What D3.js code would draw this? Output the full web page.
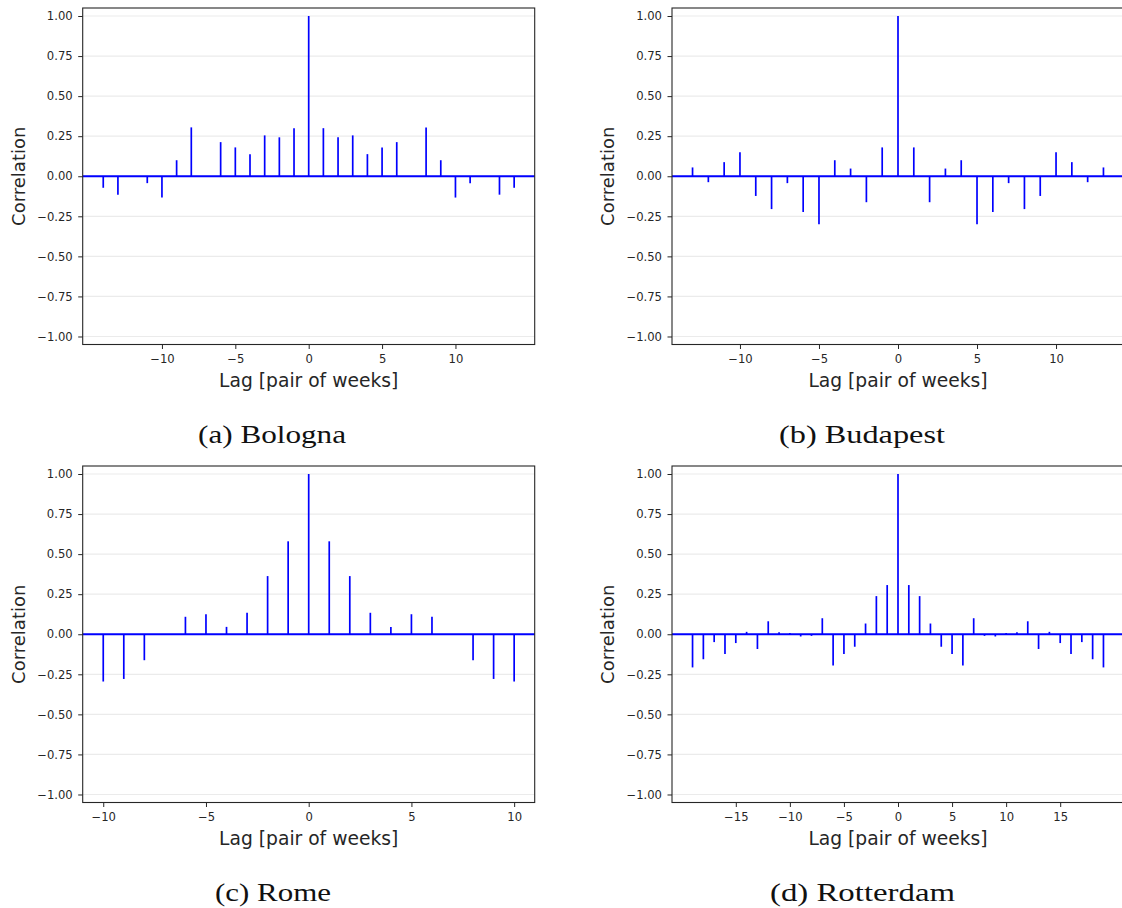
<!DOCTYPE html>
<html>
<head>
<meta charset="utf-8">
<script src="https://cdn.jsdelivr.net/npm/d3@7"></script>
<style>
  html, body { margin: 0; padding: 0; background: #fff; }
  svg { display: block; }
</style>
</head>
<body>
<svg id="chart" width="1122" height="908"></svg>
<script>
// ---------------- data ----------------
const bolognaLags = [-14,-13,-12,-11,-10,-9,-8,-7,-6,-5,-4,-3,-2,-1,0,1,2,3,4,5,6,7,8,9,10,11,12,13,14];
const bolognaCorr = [-0.072,-0.115,0,-0.043,-0.133,0.10,0.305,0,0.213,0.18,0.138,0.255,0.243,0.30,1.0,
                     0.30,0.243,0.255,0.138,0.18,0.213,0,0.305,0.10,-0.133,-0.043,0,-0.115,-0.072];

const budapestLags = [-13,-12,-11,-10,-9,-8,-7,-6,-5,-4,-3,-2,-1,0,1,2,3,4,5,6,7,8,9,10,11,12,13];
const budapestCorr = [0.055,-0.037,0.088,0.15,-0.123,-0.205,-0.043,-0.223,-0.30,0.10,0.048,-0.162,0.18,1.0,
                      0.18,-0.162,0.048,0.10,-0.30,-0.223,-0.043,-0.205,-0.123,0.15,0.088,-0.037,0.055];

const romeLags = [-10,-9,-8,-7,-6,-5,-4,-3,-2,-1,0,1,2,3,4,5,6,7,8,9,10];
const romeCorr = [-0.295,-0.279,-0.162,0,0.109,0.125,0.046,0.134,0.363,0.58,1.0,
                  0.58,0.363,0.134,0.046,0.125,0.109,0,-0.162,-0.279,-0.295];

const rotterdamLags = [-19,-18,-17,-16,-15,-14,-13,-12,-11,-10,-9,-8,-7,-6,-5,-4,-3,-2,-1,0,
                       1,2,3,4,5,6,7,8,9,10,11,12,13,14,15,16,17,18,19];
const rotterdamCorr = [-0.207,-0.156,-0.049,-0.123,-0.055,0.015,-0.092,0.081,0.013,0.008,-0.014,-0.01,0.10,-0.195,-0.123,-0.078,0.067,0.238,0.307,1.0,
                       0.307,0.238,0.067,-0.078,-0.123,-0.195,0.10,-0.01,-0.014,0.008,0.013,0.081,-0.092,0.015,-0.055,-0.123,-0.049,-0.156,-0.207];

const yTicks = [-1.0,-0.75,-0.5,-0.25,0,0.25,0.5,0.75,1.0];
const xTicksA = [-10,-5,0,5,10];
const xTicksB = [-10,-5,0,5,10];
const xTicksC = [-10,-5,0,5,10];
const xTicksD = [-15,-10,-5,0,5,10,15];

const captions = ["(a) Bologna", "(b) Budapest", "(c) Rome", "(d) Rotterdam"];
const maxLags = [14, 13, 10, 19];
const xLabel = "Lag [pair of weeks]";
const yLabel = "Correlation";

// ---------------- layout ----------------
const panels = [
  {lags: bolognaLags,   corr: bolognaCorr,   ticks: xTicksA, cap: captions[0], maxlag: maxLags[0], x0: 82.7, y0: 8,   capX: 272, capW: 148},
  {lags: budapestLags,  corr: budapestCorr,  ticks: xTicksB, cap: captions[1], maxlag: maxLags[1], x0: 672,  y0: 8,   capX: 862, capW: 166},
  {lags: romeLags,      corr: romeCorr,      ticks: xTicksC, cap: captions[2], maxlag: maxLags[2], x0: 82.7, y0: 466, capX: 273, capW: 116},
  {lags: rotterdamLags, corr: rotterdamCorr, ticks: xTicksD, cap: captions[3], maxlag: maxLags[3], x0: 672,  y0: 466, capX: 862.5, capW: 185}
];
const W = 452, H = 336.5;
const ink = "#262626";
const blue = "#0000ff";

const svg = d3.select("#chart");

panels.forEach(p => {
  const margin = p.maxlag * 1.1;
  const x = d3.scaleLinear().domain([-margin, margin]).range([0, W]);
  const y = d3.scaleLinear().domain([-1.05, 1.05]).range([H, 0]);
  const g = svg.append("g").attr("transform", `translate(${p.x0},${p.y0})`);

  // grid
  g.append("g").selectAll("line").data(yTicks).join("line")
    .attr("x1", 0).attr("x2", W)
    .attr("y1", d => y(d)).attr("y2", d => y(d))
    .attr("stroke", "#ebebeb").attr("stroke-width", 1.2);

  // vlines
  g.append("g").selectAll("line").data(p.lags.map((l, i) => [l, p.corr[i]])).join("line")
    .attr("x1", d => x(d[0])).attr("x2", d => x(d[0]))
    .attr("y1", y(0)).attr("y2", d => y(d[1]))
    .attr("stroke", blue).attr("stroke-width", 1.7);

  // zero line
  g.append("line").attr("x1", 0).attr("x2", W).attr("y1", y(0)).attr("y2", y(0))
    .attr("stroke", blue).attr("stroke-width", 2);

  // spines
  g.append("rect").attr("x", 0).attr("y", 0).attr("width", W).attr("height", H)
    .attr("fill", "none").attr("stroke", ink).attr("stroke-width", 1.1);

  // axes
  const xa = d3.axisBottom(x).tickValues(p.ticks).tickSize(4.5).tickPadding(5.5)
    .tickFormat(d3.format("d"));
  const ya = d3.axisLeft(y).tickValues(yTicks).tickSize(4.5).tickPadding(5.5)
    .tickFormat(d3.format(".2f"));
  const gx = g.append("g").attr("transform", `translate(0,${H})`).call(xa);
  const gy = g.append("g").call(ya);
  [gx, gy].forEach(a => {
    a.select(".domain").remove();
    a.selectAll(".tick line").attr("stroke", ink).attr("stroke-width", 1);
    a.selectAll(".tick text").attr("fill", ink)
      .style("font-family", "DejaVu Sans").style("font-size", "11.6px");
  });

  // axis labels
  g.append("text").attr("x", x(0)).attr("y", H + 42)
    .attr("text-anchor", "middle").attr("fill", ink)
    .style("font-family", "DejaVu Sans").style("font-size", "18.7px")
    .text(xLabel);
  g.append("text").attr("transform", `translate(${-58},${H / 2}) rotate(-90)`)
    .attr("text-anchor", "middle").attr("fill", ink)
    .style("font-family", "DejaVu Sans").style("font-size", "18px")
    .text(yLabel);

  // caption
  svg.append("text").attr("x", p.capX - p.capW / 2).attr("y", p.y0 + 435)
    .attr("textLength", p.capW).attr("lengthAdjust", "spacingAndGlyphs")
    .attr("fill", "#111")
    .style("font-family", "Liberation Serif").style("font-size", "25px")
    .text(p.cap);
});
</script>
</body>
</html>
